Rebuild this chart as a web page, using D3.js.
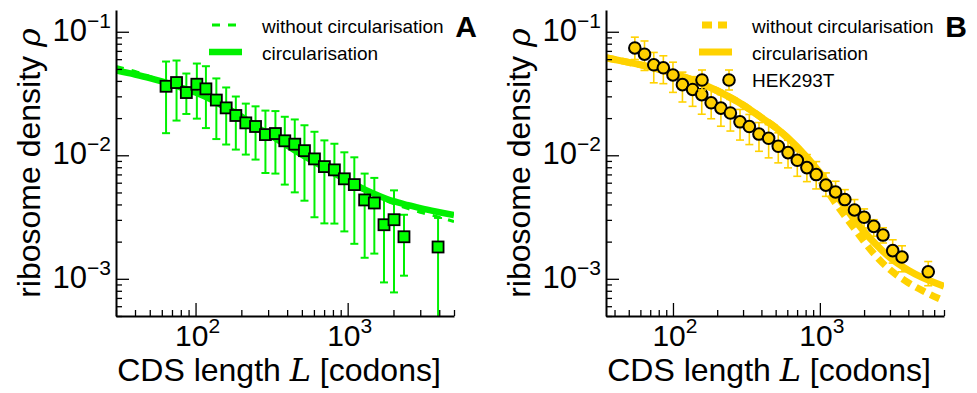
<!DOCTYPE html>
<html>
<head>
<meta charset="utf-8">
<script src="https://cdn.jsdelivr.net/npm/d3@7"></script>
<style>
  body { margin: 0; background: #fff; }
  svg text { font-family: 'Liberation Sans', Arial, sans-serif; fill: #000; }
</style>
</head>
<body>
<script>
// Width and height
const w = 977;
const h = 393;

// Panel A: binned data (CDS length in codons, ribosome density)
const lenA = [64, 75, 87, 102, 117, 137, 159, 184, 214, 248, 288, 335, 386, 449, 520, 605,
  703, 818, 951, 1106, 1293, 1497, 1733, 2017, 2345, 3928];
const rhoA = [0.0362, 0.0388, 0.0322, 0.0376, 0.0345, 0.0280, 0.0242, 0.0210, 0.0183, 0.0171,
  0.0147, 0.0150, 0.0131, 0.0123, 0.0109, 0.00935, 0.00810, 0.00762, 0.00645, 0.00579,
  0.00435, 0.00411, 0.00274, 0.00301, 0.00219, 0.00181];
const rhoAHi = [0.0574, 0.0585, 0.0459, 0.0553, 0.0526, 0.0419, 0.0354, 0.0299, 0.0262, 0.0249,
  0.0230, 0.0228, 0.0205, 0.0195, 0.0175, 0.0155, 0.0132, 0.0124, 0.01057, 0.00963,
  0.00711, 0.00656, 0.00454, 0.00520, 0.00330, 0.00311];
const rhoALo = [0.0151, 0.0191, 0.0216, 0.0198, 0.0166, 0.01353, 0.01222, 0.01112, 0.01013, 0.00923,
  0.00719, 0.00711, 0.00579, 0.00501, 0.00429, 0.00315, 0.00281, 0.00280, 0.00242, 0.00192,
  0.00148, 0.00160, 0.000935, 0.000776, 0.00106, 0.0001];

// Panel A: model curves
const fitLenA = [30, 40, 50, 60, 80, 100, 130, 160, 200, 250, 300, 400, 500, 600, 800, 1000,
  1300, 1600, 2000, 2500, 3000, 4000, 5000];
const fitCircA = [0.0486, 0.0451, 0.0422, 0.0396, 0.0354, 0.0322, 0.0278, 0.0241, 0.0206, 0.0171,
  0.01485, 0.01199, 0.01013, 0.00889, 0.00724, 0.00624, 0.00527, 0.00471, 0.00425, 0.00395,
  0.00373, 0.00346, 0.00328];
const fitNoCircA = [0.0523, 0.0477, 0.0434, 0.0399, 0.0354, 0.0322, 0.0278, 0.0241, 0.0206, 0.0171,
  0.01485, 0.01199, 0.01013, 0.00889, 0.00724, 0.00624, 0.00517, 0.00454, 0.00406, 0.00370,
  0.00346, 0.00316, 0.00290];

// Panel B: HEK293T data
const lenB = [55, 64, 74, 86, 100, 116, 136, 157, 182, 212, 246, 286, 331, 385, 448, 521, 607,
  702, 816, 944, 1099, 1279, 1479, 1721, 2001, 2327, 2691, 3132, 3623, 5467];
const rhoB = [0.0739, 0.0658, 0.0540, 0.0511, 0.0447, 0.0373, 0.0341, 0.0310, 0.0266, 0.0241,
  0.0220, 0.01866, 0.01708, 0.01485, 0.01373, 0.01183, 0.01051, 0.00911, 0.00795, 0.00698,
  0.00573, 0.00505, 0.00438, 0.00361, 0.00315, 0.00266, 0.00226, 0.00169, 0.00150, 0.00114];
const rhoBHi = [0.0904, 0.0842, 0.0680, 0.0639, 0.0567, 0.0471, 0.0433, 0.0396, 0.0341, 0.0310,
  0.0283, 0.0235, 0.0214, 0.0184, 0.0177, 0.0152, 0.01323, 0.01155, 0.01013, 0.00889,
  0.00720, 0.00616, 0.00527, 0.00438, 0.00368, 0.00301, 0.00259, 0.00207, 0.00185, 0.00138];
const rhoBLo = [0.0596, 0.0486, 0.0386, 0.0380, 0.0323, 0.0270, 0.0249, 0.0215, 0.01976, 0.01718,
  0.01571, 0.01328, 0.01221, 0.01077, 0.00953, 0.00868, 0.00791, 0.00676, 0.00612, 0.00534,
  0.00465, 0.00429, 0.00363, 0.00301, 0.00258, 0.00221, 0.00195, 0.00134, 0.00114, 0.000879];

// Panel B: model curves
const fitLenB = [35, 50, 70, 100, 150, 200, 300, 400, 500, 700, 1000, 1300, 1600, 2000, 2500,
  3000, 4000, 5000, 7000];
const fitCircB = [0.0616, 0.0565, 0.0518, 0.0461, 0.0389, 0.0333, 0.02556, 0.0202, 0.01677, 0.01176,
  0.00724, 0.00471, 0.00337, 0.00241, 0.00182, 0.001483, 0.001174, 0.001021, 0.000871];
const fitNoCircB = [0.0616, 0.0565, 0.0518, 0.0461, 0.0389, 0.0333, 0.02556, 0.0202, 0.01677, 0.01133,
  0.00635, 0.00398, 0.00285, 0.00200, 0.001455, 0.001185, 0.000930, 0.000801, 0.000665];

// Tick values and labels
const xMajor = [1e2, 1e3];
const yMajor = [1e-3, 1e-2, 1e-1];
const legendLabels = ['without circularisation', 'circularisation', 'HEK293T'];

// Create SVG element
const svg = d3.select('body')
  .append('svg')
  .attr('width', w)
  .attr('height', h);

// "10" with a superscript exponent, as matplotlib writes it
const powLabel = (sel, v) => {
  const e = Math.round(Math.log10(v));
  sel.append('tspan').text('10');
  sel.append('tspan')
    .attr('dy', -13)
    .style('font-size', '21px')
    .text(e < 0 ? '\u2212' + -e : e);
};

const drawPanel = p => {
  const top = 10;
  const bottom = 316;
  const x = d3.scaleLog().domain(p.xDomain).range([p.left, p.right]);
  const y = d3.scaleLog().domain([5e-4, 0.15]).range([bottom, top]);

  const g = svg.append('g');

  g.append('clipPath')
    .attr('id', 'clip' + p.name)
    .append('rect')
    .attr('x', p.left)
    .attr('y', top)
    .attr('width', p.right - p.left)
    .attr('height', bottom - top);

  const plot = g.append('g').attr('clip-path', `url(#clip${p.name})`);

  // Model curves
  const line = d3.line()
    .x(d => x(d[0]))
    .y(d => y(d[1]))
    .curve(d3.curveMonotoneX);

  plot.append('path')
    .datum(d3.zip(p.fitLen, p.fitCirc))
    .attr('d', line)
    .attr('fill', 'none')
    .attr('stroke', p.color)
    .attr('stroke-width', p.solidWidth);

  plot.append('path')
    .datum(d3.zip(p.fitLen, p.fitNoCirc))
    .attr('d', line)
    .attr('fill', 'none')
    .attr('stroke', p.color)
    .attr('stroke-width', p.dashWidth)
    .attr('stroke-dasharray', p.dash);

  // Error bars
  const pts = d3.zip(p.len, p.rho, p.lo, p.hi);
  const bars = plot.selectAll('.err')
    .data(pts)
    .enter()
    .append('g')
    .attr('stroke', p.color)
    .attr('stroke-width', p.barWidth);
  bars.append('line')
    .attr('x1', d => x(d[0]))
    .attr('x2', d => x(d[0]))
    .attr('y1', d => y(d[2]))
    .attr('y2', d => y(d[3]));
  bars.append('line')
    .attr('x1', d => x(d[0]) - 4)
    .attr('x2', d => x(d[0]) + 4)
    .attr('y1', d => y(d[3]))
    .attr('y2', d => y(d[3]));
  bars.append('line')
    .attr('x1', d => x(d[0]) - 4)
    .attr('x2', d => x(d[0]) + 4)
    .attr('y1', d => y(d[2]))
    .attr('y2', d => y(d[2]));

  // Markers
  if (p.marker === 'square') {
    plot.selectAll('.mk')
      .data(pts)
      .enter()
      .append('rect')
      .attr('x', d => x(d[0]) - 5.5)
      .attr('y', d => y(d[1]) - 5.5)
      .attr('width', 11)
      .attr('height', 11)
      .attr('fill', p.fill)
      .attr('stroke', '#000')
      .attr('stroke-width', 1.8);
  } else {
    plot.selectAll('.mk')
      .data(pts)
      .enter()
      .append('circle')
      .attr('cx', d => x(d[0]))
      .attr('cy', d => y(d[1]))
      .attr('r', 5.8)
      .attr('fill', p.fill)
      .attr('stroke', '#000')
      .attr('stroke-width', 2);
  }

  // Axes: inward ticks, left and bottom spines only
  const xMinor = x.ticks().filter(v => !xMajor.includes(v));
  const yMinor = y.ticks().filter(v => !yMajor.includes(v));

  const xAxis = g.append('g').attr('transform', `translate(0,${bottom})`);
  xAxis.call(d3.axisBottom(x).tickValues(xMinor).tickSize(-6).tickSizeOuter(0).tickFormat(''));
  xAxis.append('g').call(d3.axisBottom(x).tickValues(xMajor).tickSize(-13).tickSizeOuter(0).tickFormat(''))
    .select('.domain').remove();

  const yAxis = g.append('g').attr('transform', `translate(${p.left},0)`);
  yAxis.call(d3.axisLeft(y).tickValues(yMinor).tickSize(-6).tickSizeOuter(0).tickFormat(''));
  yAxis.append('g').call(d3.axisLeft(y).tickValues(yMajor).tickSize(-13).tickSizeOuter(0).tickFormat(''))
    .select('.domain').remove();

  g.selectAll('.domain').attr('stroke-width', 2);
  g.selectAll('.tick line').attr('stroke-width', 1.3);

  // Tick labels
  xMajor.forEach(v => {
    g.append('text')
      .attr('x', x(v) + 2)
      .attr('y', 346)
      .attr('text-anchor', 'middle')
      .style('font-size', '30px')
      .call(powLabel, v);
  });
  yMajor.forEach(v => {
    g.append('text')
      .attr('x', p.left - 5)
      .attr('y', y(v) + 9)
      .attr('text-anchor', 'end')
      .style('font-size', '31px')
      .call(powLabel, v);
  });

  // Axis labels
  const xl = g.append('text')
    .attr('x', (p.left + p.right) / 2 - 6)
    .attr('y', 381)
    .attr('text-anchor', 'middle')
    .style('font-size', '32px');
  xl.append('tspan').text('CDS length ');
  xl.append('tspan').style('font-family', "'DejaVu Serif', serif").style('font-style', 'italic').text('L');
  xl.append('tspan').text(' [codons]');

  const yl = g.append('text')
    .attr('transform', `translate(${p.left - 76},${(top + bottom) / 2}) rotate(-90)`)
    .attr('text-anchor', 'middle')
    .style('font-size', '32px');
  yl.append('tspan').text('ribosome density ');
  yl.append('tspan').style('font-family', "'DejaVu Serif', serif").style('font-style', 'italic').text('\u03c1');

  // Legend
  const lx = p.right - 245;
  g.append('line')
    .attr('x1', lx + 3).attr('x2', lx + 28)
    .attr('y1', 25).attr('y2', 25)
    .attr('stroke', p.color)
    .attr('stroke-width', p.dashWidth)
    .attr('stroke-dasharray', p.dash);
  g.append('line')
    .attr('x1', lx).attr('x2', lx + 33)
    .attr('y1', 52).attr('y2', 52)
    .attr('stroke', p.color)
    .attr('stroke-width', p.solidWidth);
  const labels = p.marker === 'circle' ? legendLabels : legendLabels.slice(0, 2);
  g.selectAll('.leg')
    .data(labels)
    .enter()
    .append('text')
    .attr('x', lx + 53)
    .attr('y', (d, i) => 32.5 + i * 27)
    .style('font-size', '19px')
    .text(d => d);

  if (p.marker === 'circle') {
    [lx + 3, lx + 30].forEach(cx => {
      g.append('line')
        .attr('x1', cx).attr('x2', cx).attr('y1', 70).attr('y2', 90)
        .attr('stroke', p.color).attr('stroke-width', p.barWidth);
      [70, 90].forEach(cy => {
        g.append('line')
          .attr('x1', cx - 4).attr('x2', cx + 4).attr('y1', cy).attr('y2', cy)
          .attr('stroke', p.color).attr('stroke-width', p.barWidth);
      });
      g.append('circle')
        .attr('cx', cx).attr('cy', 80).attr('r', 5.8)
        .attr('fill', p.fill).attr('stroke', '#000').attr('stroke-width', 2);
    });
  }

  // Panel letter
  g.append('text')
    .attr('x', p.right + 12)
    .attr('y', 37)
    .attr('text-anchor', 'middle')
    .style('font-size', '30px')
    .style('font-weight', 'bold')
    .text(p.name);
};

drawPanel({
  name: 'A',
  left: 116,
  right: 454,
  xDomain: [30, 5000],
  len: lenA, rho: rhoA, lo: rhoALo, hi: rhoAHi,
  fitLen: fitLenA, fitCirc: fitCircA, fitNoCirc: fitNoCircA,
  color: '#00f000',
  fill: '#00ff00',
  marker: 'square',
  solidWidth: 6.5,
  dashWidth: 3,
  dash: '8,8',
  barWidth: 2
});

drawPanel({
  name: 'B',
  left: 606,
  right: 944,
  xDomain: [35, 7000],
  len: lenB, rho: rhoB, lo: rhoBLo, hi: rhoBHi,
  fitLen: fitLenB, fitCirc: fitCircB, fitNoCirc: fitNoCircB,
  color: '#ffd200',
  fill: '#ffd000',
  marker: 'circle',
  solidWidth: 7,
  dashWidth: 7,
  dash: '10,6',
  barWidth: 1.6
});
</script>
</body>
</html>
